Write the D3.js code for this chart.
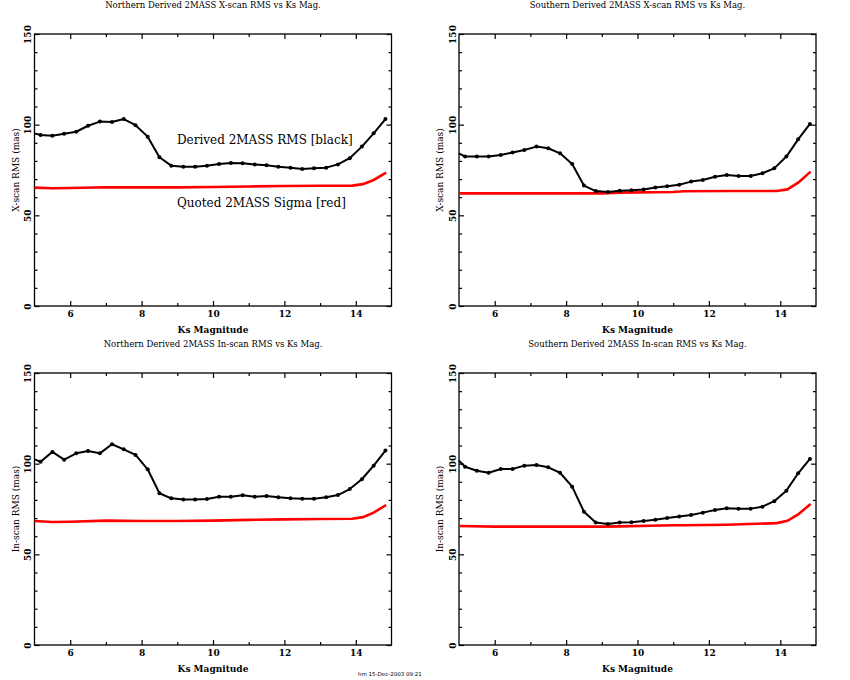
<!DOCTYPE html>
<html>
<head>
<meta charset="utf-8">
<script src="https://cdn.jsdelivr.net/npm/d3@7"></script>
<style>
  body { margin: 0; background: #fff; }
  svg text { font-family: "DejaVu Serif", serif; fill: #000; }
</style>
</head>
<body>
<svg id="Viz"></svg>
<script>
// magnitude bins (Ks)
let magBins = [5.0, 5.17, 5.5, 5.83, 6.17, 6.5, 6.83, 7.17, 7.5, 7.83, 8.17, 8.5, 8.83, 9.17, 9.5, 9.83,
  10.17, 10.5, 10.83, 11.17, 11.5, 11.83, 12.17, 12.5, 12.83, 13.17, 13.5, 13.83, 14.17, 14.5, 14.83];

// derived RMS (black)
let northX = [95.2, 94.3, 93.9, 95.0, 96.1, 99.4, 101.7, 101.5, 103.1, 99.7, 93.4, 82.0, 77.4, 76.8, 76.8, 77.4,
  78.3, 78.9, 78.7, 78.1, 77.6, 76.8, 76.3, 75.6, 75.9, 76.3, 78.1, 81.5, 87.9, 95.2, 103.1];
let southX = [84.2, 82.4, 82.4, 82.4, 83.3, 84.6, 86.0, 87.9, 87.0, 84.2, 78.3, 66.4, 63.4, 62.9, 63.6, 63.8,
  64.3, 65.3, 66.0, 66.9, 68.6, 69.5, 71.3, 72.3, 71.7, 71.7, 73.2, 75.9, 82.4, 91.9, 100.4];
let northIn = [102.4, 101.1, 106.5, 102.2, 105.7, 107.0, 105.7, 110.7, 107.9, 104.8, 96.9, 83.7, 80.9, 80.2, 80.2, 80.5,
  81.8, 81.8, 82.6, 81.8, 82.2, 81.5, 80.9, 80.7, 80.7, 81.5, 82.7, 86.0, 91.4, 98.9, 107.2];
let southIn = [101.7, 98.3, 96.1, 95.0, 97.1, 97.1, 98.9, 99.3, 98.0, 95.0, 87.3, 73.5, 67.5, 66.7, 67.5, 67.7,
  68.4, 69.1, 70.0, 70.8, 71.7, 73.0, 74.5, 75.4, 75.2, 75.2, 76.3, 79.3, 85.1, 94.7, 102.6];

// quoted sigma (red)
let sigmaMagN = [5.0, 5.5, 6, 7, 8, 9, 10, 11, 12, 13, 13.9, 14.2, 14.5, 14.85];
let northXSig = [65.3, 64.9, 65.1, 65.5, 65.4, 65.4, 65.6, 65.9, 66.2, 66.3, 66.4, 67.2, 69.5, 73.5];
let northInSig = [68.4, 67.8, 68.0, 68.6, 68.4, 68.4, 68.6, 69.0, 69.3, 69.5, 69.6, 70.5, 73.0, 77.2];
let sigmaMagS = [5.0, 6, 7, 8, 9, 9.5, 11, 11.3, 12.5, 13.9, 14.2, 14.5, 14.85];
let southXSig = [62.1, 62.1, 62.1, 62.1, 62.1, 62.5, 62.9, 63.3, 63.4, 63.4, 64.3, 68.0, 74.1];
let southInSig = [65.6, 65.3, 65.3, 65.3, 65.3, 65.4, 66.0, 66.0, 66.3, 67.2, 68.5, 72.0, 77.8];

let xMajor = [6, 8, 10, 12, 14];
let xMinor = [7, 9, 11, 13];
let yMajor = [0, 50, 100, 150];
let yMinor = [10, 20, 30, 40, 60, 70, 80, 90, 110, 120, 130, 140];

let panels = [
  {title: "Northern Derived 2MASS X-scan RMS vs Ks Mag.", ylab: "X-scan RMS (mas)", rms: northX, sigX: sigmaMagN, sig: northXSig, left: 34.5, top: 34, legend: true},
  {title: "Southern Derived 2MASS X-scan RMS vs Ks Mag.", ylab: "X-scan RMS (mas)", rms: southX, sigX: sigmaMagS, sig: southXSig, left: 459, top: 34},
  {title: "Northern Derived 2MASS In-scan RMS vs Ks Mag.", ylab: "In-scan RMS (mas)", rms: northIn, sigX: sigmaMagN, sig: northInSig, left: 34.5, top: 373},
  {title: "Southern Derived 2MASS In-scan RMS vs Ks Mag.", ylab: "In-scan RMS (mas)", rms: southIn, sigX: sigmaMagS, sig: southInSig, left: 459, top: 373}
];

let Width = 850, Height = 680;
let pw = 357, ph = 272;

let vizArea = d3.select('#Viz').attr("width", Width).attr("height", Height);

panels.forEach(function(p){
  let g = vizArea.append("g").attr("transform", "translate(" + p.left + "," + p.top + ")");
  let xScale = d3.scaleLinear().domain([5, 15]).range([0, pw]);
  let yScale = d3.scaleLinear().domain([0, 150]).range([ph, 0]);

  // frame
  g.append("rect").attr("width", pw).attr("height", ph)
    .attr("fill", "none").attr("stroke", "#000").attr("stroke-width", 1.3);

  // bottom axis
  let bx = g.append("g").attr("transform", "translate(0," + ph + ")")
    .call(d3.axisBottom(xScale).tickValues(xMajor).tickSize(-5).tickPadding(5).tickFormat(d3.format("d")));
  bx.append("g").call(d3.axisBottom(xScale).tickValues(xMinor).tickSize(-3).tickFormat(""));
  // top axis
  let tx = g.append("g")
    .call(d3.axisTop(xScale).tickValues(xMajor).tickSize(-5).tickFormat(""));
  tx.append("g").call(d3.axisTop(xScale).tickValues(xMinor).tickSize(-3).tickFormat(""));

  // left axis
  let ly = g.append("g")
    .call(d3.axisLeft(yScale).tickValues(yMajor).tickSize(-5).tickFormat(d3.format("d")));
  ly.selectAll("text").attr("transform", "rotate(-90)").attr("x", 0).attr("y", -3.5)
    .attr("dy", 0).attr("text-anchor", "middle");
  ly.append("g").call(d3.axisLeft(yScale).tickValues(yMinor).tickSize(-3).tickFormat(""));
  // right axis
  let ry = g.append("g").attr("transform", "translate(" + pw + ",0)")
    .call(d3.axisRight(yScale).tickValues(yMajor).tickSize(-5).tickFormat(""));
  ry.append("g").call(d3.axisRight(yScale).tickValues(yMinor).tickSize(-3).tickFormat(""));

  g.selectAll(".domain").remove();
  g.selectAll(".tick line").attr("stroke", "#000").attr("stroke-width", 1.2);
  g.selectAll(".tick text").style("font-size", "9px").style("font-weight", "bold");

  // titles
  g.append("text").attr("x", pw / 2).attr("y", -26).attr("text-anchor", "middle")
    .style("font-size", "8.5px").text(p.title);
  g.append("text").attr("x", pw / 2).attr("y", ph + 27).attr("text-anchor", "middle")
    .style("font-size", "9px").style("font-weight", "bold").text("Ks Magnitude");
  g.append("text").attr("transform", "translate(-16," + (ph / 2) + ") rotate(-90)")
    .attr("text-anchor", "middle").style("font-size", "9px").text(p.ylab);

  // quoted sigma (red)
  let sigData = p.sigX.map(function(d, i){ return {x: d, y: p.sig[i]}; });
  g.append("path").datum(sigData)
    .attr("fill", "none").attr("stroke", "#ff0000").attr("stroke-width", 2.6)
    .attr("d", d3.line().x(function(d){ return xScale(d.x); }).y(function(d){ return yScale(d.y); }));

  // derived RMS (black)
  let rmsData = magBins.map(function(d, i){ return {x: d, y: p.rms[i]}; });
  g.append("path").datum(rmsData)
    .attr("fill", "none").attr("stroke", "#000").attr("stroke-width", 2)
    .attr("stroke-linejoin", "round")
    .attr("d", d3.line().x(function(d){ return xScale(d.x); }).y(function(d){ return yScale(d.y); }));
  g.selectAll("circle.pt").data(rmsData.slice(1)).enter().append("circle")
    .attr("class", "pt")
    .attr("cx", function(d){ return xScale(d.x); })
    .attr("cy", function(d){ return yScale(d.y); })
    .attr("r", 2).attr("fill", "#000");

  if (p.legend) {
    g.append("text").attr("x", 142.5).attr("y", 110).style("font-size", "12px").text("Derived 2MASS RMS [black]");
    g.append("text").attr("x", 142.5).attr("y", 173).style("font-size", "12px").text("Quoted 2MASS Sigma [red]");
  }
});

// footer stamp
vizArea.append("text").attr("x", 358).attr("y", 676)
  .style("font-family", "'DejaVu Sans', sans-serif").style("font-size", "5.5px")
  .text("hm 15-Dec-2003 09:21");
</script>
</body>
</html>
